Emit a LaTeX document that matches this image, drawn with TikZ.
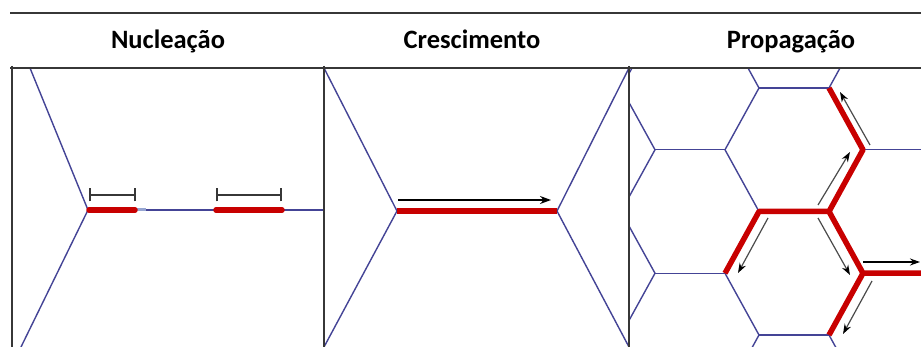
\documentclass[tikz,border=0pt]{standalone}
\usepackage{fontspec}
\setmainfont{Carlito}
\usetikzlibrary{arrows.meta}
\definecolor{grainblue}{RGB}{68,68,150}
\definecolor{lightblue}{RGB}{150,165,210}
\definecolor{wallred}{RGB}{200,0,0}
\definecolor{framegray}{RGB}{55,55,55}
\definecolor{arrowgray}{RGB}{75,75,75}
\begin{document}
\begin{tikzpicture}[x=1pt,y=-1pt,
  frameline/.style={draw=framegray,line width=1.5pt},
  grain/.style={draw=grainblue,line width=1.4pt},
  wall/.style={draw=wallred,line width=5.5pt,line join=round},
  bracketline/.style={draw=framegray,line width=1.4pt},
  growarrow/.style={draw=black,line width=1.5pt,-{Stealth[length=11pt,width=8pt]}},
  proparrow/.style={draw=arrowgray,line width=1.2pt,-{Stealth[length=10pt,width=7pt,color=black]}},
  title/.style={font=\bfseries\fontsize{26.5}{31}\selectfont,anchor=base,inner sep=0pt}]
\useasboundingbox (0,0) rectangle (921,347);
\fill[white] (0,0) rectangle (921,347);

% ---------- titles ----------
\node[title] (t1) at (168,49) {Nucleação};
\node[title] (t2) at (472,49) {Crescimento};
\node[title] (t3) at (791,49) {Propagação};

% ---------- panel 1: Nucleacao ----------
\coordinate (j1) at (88,210);
\coordinate (j1up) at (30,68);
\coordinate (j1dn) at (21,347);
\coordinate (j1rt) at (323,210);
\draw[grain] (j1up) -- (j1) -- (j1dn);
\draw[grain] (j1) -- (j1rt);
\coordinate (n1a) at (89,210);
\coordinate (n1b) at (135,210);
\coordinate (n1c) at (146,210);
\coordinate (n2a) at (216,210);
\coordinate (n2b) at (282,210);
\draw[draw=lightblue,line width=3pt] (n1b) -- (n1c);
\draw[wall,line cap=round] (n1a) -- (n1b);
\draw[wall,line cap=round] (n2a) -- (n2b);
% brackets
\coordinate (b1l) at (90,195);
\coordinate (b1r) at (135,195);
\coordinate (b2l) at (217,195);
\coordinate (b2r) at (281,195);
\draw[bracketline] (b1l) -- (b1r);
\draw[bracketline] ([yshift=-6.5pt]b1l) -- ([yshift=6.5pt]b1l);
\draw[bracketline] ([yshift=-6.5pt]b1r) -- ([yshift=6.5pt]b1r);
\draw[bracketline] (b2l) -- (b2r);
\draw[bracketline] ([yshift=-6.5pt]b2l) -- ([yshift=6.5pt]b2l);
\draw[bracketline] ([yshift=-6.5pt]b2r) -- ([yshift=6.5pt]b2r);

% ---------- panel 2: Crescimento ----------
\coordinate (j2l) at (397,211);
\coordinate (j2r) at (557,211);
\coordinate (p2tl) at (324,68);
\coordinate (p2bl) at (324,347);
\coordinate (p2tr) at (629,68);
\coordinate (p2br) at (629,347);
\draw[grain] (p2tl) -- (j2l) -- (p2bl);
\draw[grain] (p2tr) -- (j2r) -- (p2br);
\draw[wall] (j2l) -- (j2r);
\coordinate (g2s) at (398,200);
\coordinate (g2e) at (551,200);
\draw[growarrow] (g2s) -- (g2e);

% ---------- panel 3: Propagacao (honeycomb) ----------
\begin{scope}
\clip (629,68) rectangle (921,347);
\foreach \ye in {88,211.5,335}{
  \draw[grain] (759,\ye) -- (829,\ye);
}
\foreach \yo in {26.25,149.75,273.25,396.75}{
  \draw[grain] (655,\yo) -- (725,\yo);
  \draw[grain] (863,\yo) -- (933,\yo);
}
\foreach \ye/\yo in {88/26.25,88/149.75,211.5/149.75,211.5/273.25,335/273.25,335/396.75}{
  \draw[grain] (621,\ye) -- (655,\yo);
  \draw[grain] (759,\ye) -- (725,\yo);
  \draw[grain] (829,\ye) -- (863,\yo);
}
% red (propagating) walls
\coordinate (h1) at (829,88);
\coordinate (h2) at (863,149.75);
\coordinate (h3) at (829,211.5);
\coordinate (h4) at (759,211.5);
\coordinate (h5) at (725,273.25);
\coordinate (h6) at (863,273.25);
\coordinate (h7) at (933,273.25);
\coordinate (h8) at (829,335);
\draw[wall] (h1) -- (h2) -- (h3) -- (h4) -- (h5);
\draw[wall] (h3) -- (h6) -- (h7);
\draw[wall] (h6) -- (h8);
\end{scope}

% arrows of panel 3
\coordinate (a1s) at (870,145); \coordinate (a1e) at (840,92);
\coordinate (a2s) at (818,205); \coordinate (a2e) at (850,152);
\coordinate (a3s) at (768,218); \coordinate (a3e) at (738,273);
\coordinate (a4s) at (818,218); \coordinate (a4e) at (850,275);
\coordinate (a5s) at (863,262); \coordinate (a5e) at (920,262);
\coordinate (a6s) at (872,281); \coordinate (a6e) at (843,334);
\draw[proparrow] (a1s) -- (a1e);
\draw[proparrow] (a2s) -- (a2e);
\draw[proparrow] (a3s) -- (a3e);
\draw[proparrow] (a4s) -- (a4e);
\draw[proparrow,draw=black,line width=1.5pt] (a5s) -- (a5e);
\draw[proparrow] (a6s) -- (a6e);

% ---------- frame ----------
\coordinate (fTL) at (10,13);
\coordinate (fTR) at (921,13);
\coordinate (fML) at (10,68);
\coordinate (fMR) at (921,68);
\draw[frameline] (fTL) -- (fTR);
\draw[frameline] (fML) -- (fMR);
\coordinate (v1t) at (12,66); \coordinate (v1b) at (12,347);
\coordinate (v2t) at (324,66); \coordinate (v2b) at (324,347);
\coordinate (v3t) at (629,66); \coordinate (v3b) at (629,347);
\draw[frameline] (v1t) -- (v1b);
\draw[frameline] (v2t) -- (v2b);
\draw[frameline] (v3t) -- (v3b);
\end{tikzpicture}
\end{document}
